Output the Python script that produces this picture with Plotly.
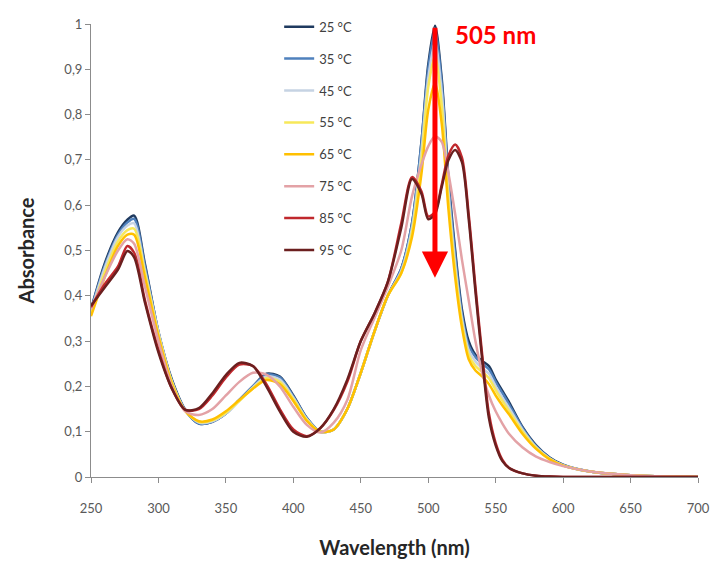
import plotly.graph_objects as go

wavelength = [250, 260, 270, 277, 282, 290, 300, 310, 320, 330, 340, 350, 360, 370, 380, 390,
              400, 410, 420, 430, 440, 450, 460, 470, 480, 488, 495, 500, 505, 510, 515, 520,
              525, 530, 535, 540, 545, 550, 555, 560, 570, 580, 590, 600, 620, 650, 700]

abs_25 = [0.37, 0.47, 0.54, 0.568, 0.577, 0.47, 0.32, 0.215, 0.148, 0.118, 0.122, 0.14, 0.17, 0.20, 0.228, 0.222,
          0.18, 0.13, 0.10, 0.105, 0.15, 0.23, 0.32, 0.40, 0.46, 0.56, 0.74, 0.91, 0.996, 0.88, 0.66, 0.50,
          0.37, 0.30, 0.27, 0.256, 0.245, 0.215, 0.19, 0.165, 0.11, 0.07, 0.043, 0.027, 0.012, 0.004, 0.0]
abs_35 = [0.37, 0.465, 0.535, 0.562, 0.57, 0.465, 0.32, 0.212, 0.147, 0.118, 0.122, 0.14, 0.17, 0.20, 0.226, 0.22,
          0.178, 0.13, 0.10, 0.105, 0.15, 0.23, 0.32, 0.40, 0.46, 0.56, 0.74, 0.90, 0.985, 0.87, 0.65, 0.49,
          0.36, 0.29, 0.265, 0.25, 0.238, 0.21, 0.185, 0.16, 0.108, 0.068, 0.042, 0.026, 0.012, 0.004, 0.0]
abs_45 = [0.365, 0.46, 0.53, 0.555, 0.56, 0.455, 0.32, 0.21, 0.146, 0.12, 0.123, 0.14, 0.168, 0.198, 0.222, 0.215,
          0.175, 0.128, 0.10, 0.105, 0.15, 0.23, 0.32, 0.40, 0.455, 0.55, 0.72, 0.88, 0.96, 0.85, 0.63, 0.47,
          0.35, 0.28, 0.255, 0.24, 0.228, 0.20, 0.175, 0.152, 0.104, 0.066, 0.041, 0.026, 0.012, 0.004, 0.0]
abs_55 = [0.36, 0.45, 0.52, 0.545, 0.548, 0.45, 0.315, 0.21, 0.145, 0.122, 0.125, 0.142, 0.168, 0.196, 0.218, 0.21,
          0.172, 0.126, 0.10, 0.105, 0.15, 0.23, 0.32, 0.40, 0.45, 0.54, 0.70, 0.86, 0.93, 0.82, 0.61, 0.455,
          0.34, 0.27, 0.245, 0.232, 0.218, 0.192, 0.168, 0.145, 0.10, 0.064, 0.04, 0.025, 0.012, 0.004, 0.0]
abs_65 = [0.355, 0.44, 0.51, 0.535, 0.535, 0.44, 0.31, 0.205, 0.145, 0.123, 0.127, 0.145, 0.17, 0.195, 0.214, 0.205,
          0.168, 0.124, 0.10, 0.105, 0.15, 0.23, 0.32, 0.40, 0.45, 0.53, 0.67, 0.81, 0.87, 0.78, 0.59, 0.44,
          0.33, 0.26, 0.235, 0.222, 0.205, 0.18, 0.158, 0.138, 0.095, 0.062, 0.039, 0.025, 0.012, 0.004, 0.0]
abs_75 = [0.37, 0.44, 0.50, 0.525, 0.515, 0.42, 0.30, 0.20, 0.145, 0.137, 0.15, 0.18, 0.21, 0.23, 0.226, 0.20,
          0.155, 0.115, 0.098, 0.12, 0.17, 0.28, 0.35, 0.42, 0.50, 0.62, 0.69, 0.73, 0.752, 0.74, 0.67, 0.58,
          0.48, 0.39, 0.30, 0.23, 0.18, 0.145, 0.118, 0.095, 0.065, 0.045, 0.033, 0.024, 0.012, 0.004, 0.0]
abs_85 = [0.375, 0.425, 0.465, 0.51, 0.495, 0.39, 0.28, 0.195, 0.148, 0.15, 0.18, 0.22, 0.248, 0.245, 0.205, 0.15,
          0.105, 0.09, 0.108, 0.148, 0.21, 0.30, 0.36, 0.43, 0.56, 0.662, 0.63, 0.575, 0.585, 0.645, 0.71, 0.734,
          0.705, 0.58, 0.42, 0.27, 0.14, 0.075, 0.038, 0.02, 0.008, 0.003, 0.001, 0.0, 0.0, 0.0, 0.0]
abs_95 = [0.378, 0.418, 0.458, 0.499, 0.485, 0.385, 0.275, 0.195, 0.148, 0.152, 0.185, 0.225, 0.252, 0.245, 0.20, 0.145,
          0.10, 0.089, 0.108, 0.15, 0.215, 0.30, 0.36, 0.43, 0.55, 0.658, 0.625, 0.569, 0.58, 0.64, 0.70, 0.722,
          0.695, 0.57, 0.41, 0.26, 0.13, 0.07, 0.035, 0.02, 0.008, 0.003, 0.001, 0.0, 0.0, 0.0, 0.0]

series_names = ["25 °C", "35 °C", "45 °C", "55 °C", "65 °C", "75 °C", "85 °C", "95 °C"]
series_values = [abs_25, abs_35, abs_45, abs_55, abs_65, abs_75, abs_85, abs_95]
series_colors = ["#1F3A5F", "#4F81BD", "#C6D3E3", "#F7E85A", "#FFC000", "#E3A2A6", "#C0282D", "#6B1F1F"]

x_ticks = [250, 300, 350, 400, 450, 500, 550, 600, 650, 700]
y_ticks = [0, 0.1, 0.2, 0.3, 0.4, 0.5, 0.6, 0.7, 0.8, 0.9, 1]
y_tick_labels = ["0", "0,1", "0,2", "0,3", "0,4", "0,5", "0,6", "0,7", "0,8", "0,9", "1"]

peak_wavelength = 505
arrow_top = 0.995
arrow_bottom = 0.44

fig = go.Figure()
for name, vals, col in zip(series_names, series_values, series_colors):
    fig.add_trace(go.Scatter(
        x=wavelength, y=vals, name=name, mode="lines", legendgroup=name,
        line=dict(color=col, width=2.5, shape="spline", smoothing=0.8),
    ))

fig.add_annotation(x=peak_wavelength, y=arrow_bottom, ax=peak_wavelength, ay=arrow_top,
                   xref="x", yref="y", axref="x", ayref="y", text="", showarrow=True,
                   arrowhead=2, arrowsize=1.05, arrowwidth=5, arrowcolor="#FF0000")
fig.add_annotation(x=550, y=0.976, xref="x", yref="y", text="<b>505 nm</b>", showarrow=False,
                   font=dict(family="Lato", size=24, color="#FF0000"), xanchor="center", yanchor="middle")

axis_common = dict(showline=True, linecolor="#8C8C8C", linewidth=1, showgrid=False, zeroline=False,
                   ticks="outside", ticklen=5, tickcolor="#8C8C8C", automargin=False,
                   tickfont=dict(family="Lato", size=13, color="#595959"))

fig.update_layout(
    width=714, height=561,
    margin=dict(l=91, r=16, t=20, b=84),
    paper_bgcolor="white", plot_bgcolor="white",
    font=dict(family="Lato", color="#404040"),
    showlegend=True,
    legend=dict(x=0.31, y=1.027, xanchor="left", yanchor="top", bgcolor="rgba(255,255,255,0)",
                font=dict(family="Lato", size=13, color="#404040"), tracegroupgap=12, itemwidth=30),
    xaxis=dict(range=[250, 700], tickvals=x_ticks, ticktext=[str(v) for v in x_ticks],
               ticklabelstandoff=14,
               title=dict(text="<b>Wavelength (nm)</b>", font=dict(family="Lato", size=20, color="#262626"), standoff=26),
               **axis_common),
    yaxis=dict(range=[0, 1], tickvals=y_ticks, ticktext=y_tick_labels,
               title=dict(text="<b>Absorbance</b>", font=dict(family="Lato", size=20, color="#262626"), standoff=24),
               **axis_common),
)

fig.write_html("out.html", config={"displayModeBar": False},
               post_script="document.body.style.margin='0';document.body.style.overflow='hidden';")
